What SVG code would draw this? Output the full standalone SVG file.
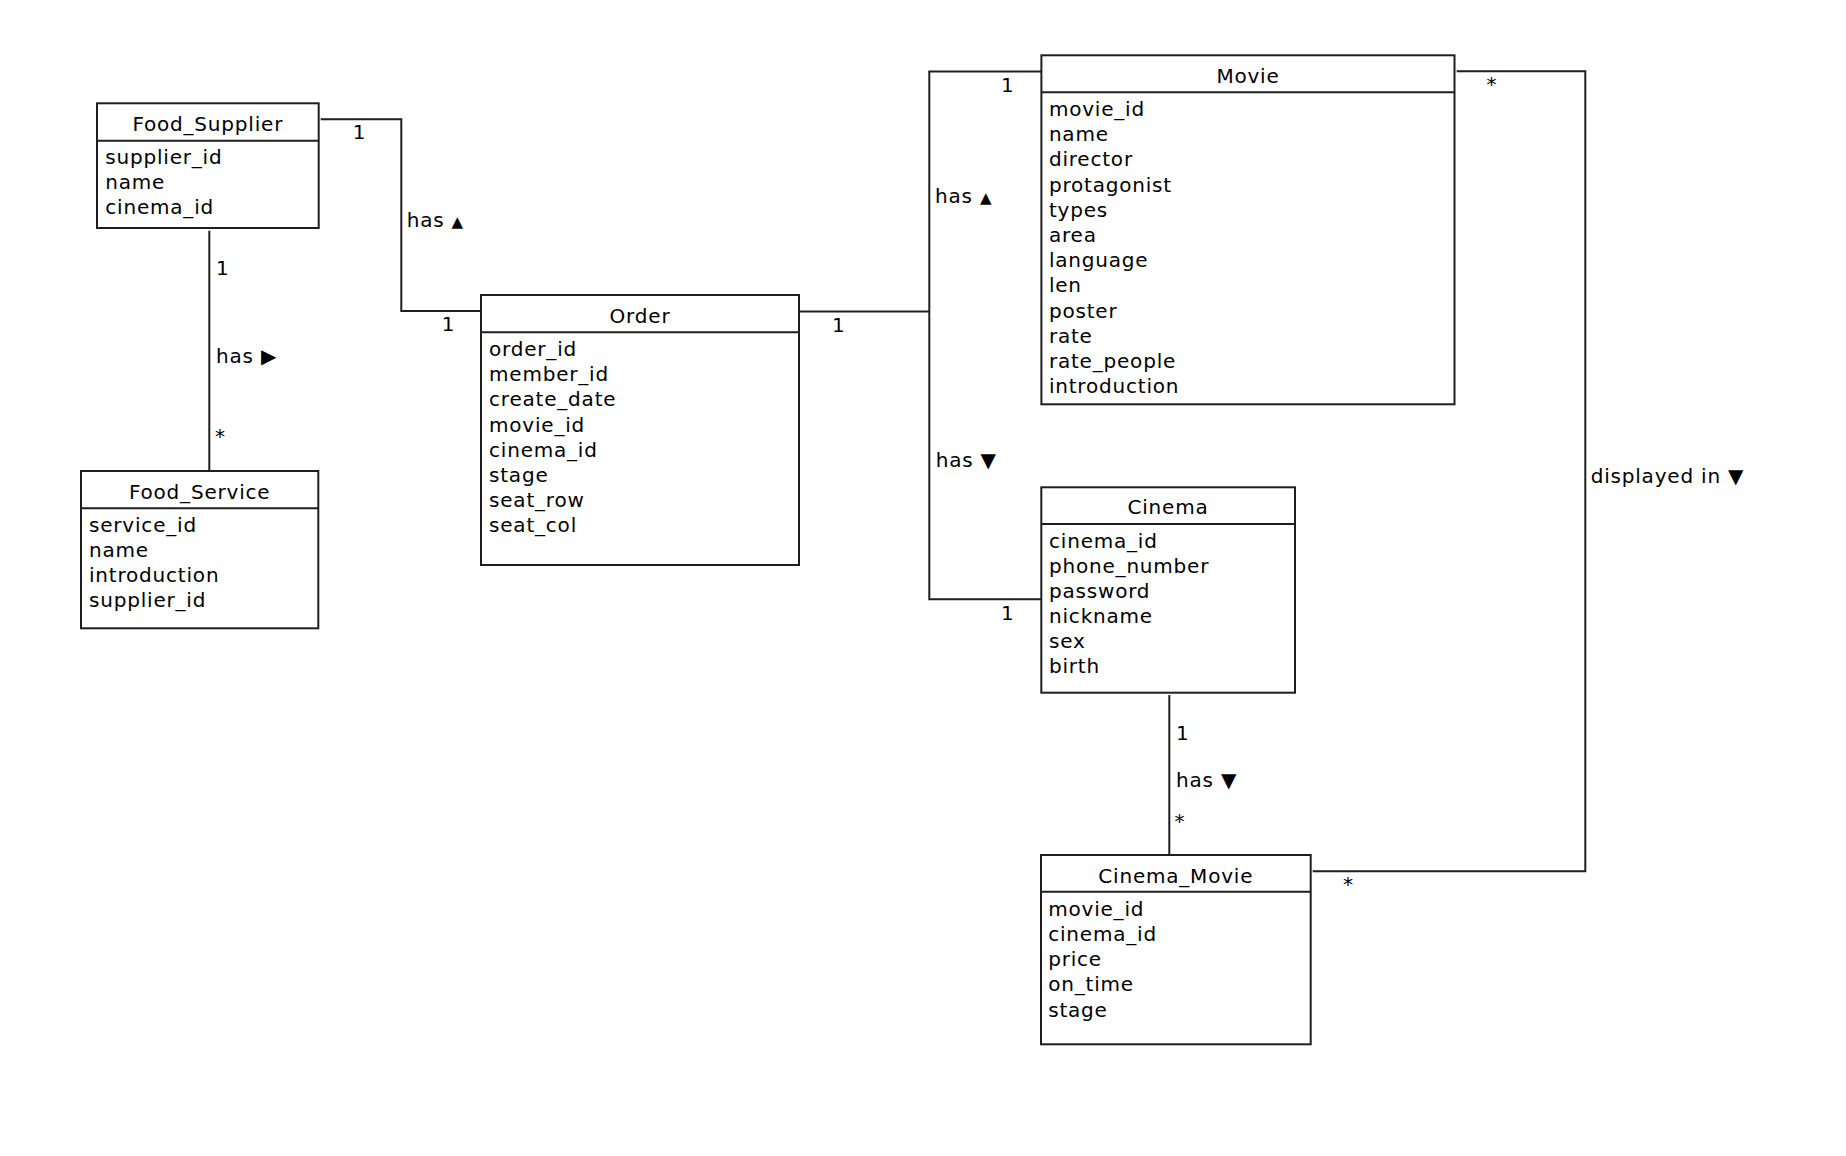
<svg xmlns="http://www.w3.org/2000/svg" width="1846" height="1156" viewBox="0 0 1846 1156">
<style>
  .box { fill: #ffffff; stroke: #1e1e1e; stroke-width: 2; }
  .div { stroke: #1e1e1e; stroke-width: 2; }
  .con { fill: none; stroke: #1e1e1e; stroke-width: 2; }
  text { font-family: "DejaVu Sans", "Liberation Sans", sans-serif; font-size: 20px; fill: #000; letter-spacing: 0.8px; }
  .title { text-anchor: middle; }
  .small { font-size: 15px; }
</style>
<rect width="1846" height="1156" fill="#ffffff"/>

<g id="connectors">
  <polyline class="con" points="320.7,119.3 401.3,119.3 401.3,311 481,311"/>
  <line class="con" x1="209.3" y1="230.7" x2="209.3" y2="471"/>
  <line class="con" x1="800" y1="311.5" x2="929.3" y2="311.5"/>
  <polyline class="con" points="1041.4,71.5 929.3,71.5 929.3,599.3 1041.3,599.3"/>
  <line class="con" x1="1169.3" y1="695" x2="1169.3" y2="855"/>
  <polyline class="con" points="1456.7,71.3 1585.3,71.3 1585.3,871.3 1312.7,871.3"/>

  <text x="352.7" y="139">1</text>
  <text x="406.7" y="226.7">has <tspan class="small">▲</tspan></text>
  <text x="441.7" y="331">1</text>

  <text x="216" y="275">1</text>
  <text x="216" y="362.7">has ▶</text>
  <text x="215" y="443">*</text>

  <text x="832" y="331.7">1</text>

  <text x="1001" y="91.7">1</text>
  <text x="935" y="202.7">has <tspan class="small">▲</tspan></text>
  <text x="935.7" y="466.7">has ▼</text>
  <text x="1001" y="620">1</text>

  <text x="1176" y="740">1</text>
  <text x="1176" y="786.7">has ▼</text>
  <text x="1174.5" y="827.5">*</text>

  <text x="1486.5" y="91">*</text>
  <text x="1590.7" y="482.7">displayed in ▼</text>
  <text x="1343" y="891">*</text>
</g>

<g id="Food_Supplier">
  <rect class="box" x="97" y="103.3" width="221.7" height="124.7"/>
  <line class="div" x1="97" y1="140.7" x2="318.7" y2="140.7"/>
  <text class="title" x="207.8" y="130.7">Food_Supplier</text>
  <text x="105.3" y="164">supplier_id</text>
  <text x="105.3" y="189">name</text>
  <text x="105.3" y="214">cinema_id</text>
</g>

<g id="Food_Service">
  <rect class="box" x="81" y="471" width="237.3" height="157.3"/>
  <line class="div" x1="81" y1="508.3" x2="318.3" y2="508.3"/>
  <text class="title" x="199.7" y="498.5">Food_Service</text>
  <text x="89" y="531.7">service_id</text>
  <text x="89" y="556.9">name</text>
  <text x="89" y="582.1">introduction</text>
  <text x="89" y="607.3">supplier_id</text>
</g>

<g id="Order">
  <rect class="box" x="481" y="295" width="318" height="270"/>
  <line class="div" x1="481" y1="332.3" x2="799" y2="332.3"/>
  <text class="title" x="640" y="322.7">Order</text>
  <text x="489" y="356">order_id</text>
  <text x="489" y="381.2">member_id</text>
  <text x="489" y="406.4">create_date</text>
  <text x="489" y="431.6">movie_id</text>
  <text x="489" y="456.8">cinema_id</text>
  <text x="489" y="482">stage</text>
  <text x="489" y="507.2">seat_row</text>
  <text x="489" y="532.4">seat_col</text>
</g>

<g id="Movie">
  <rect class="box" x="1041.4" y="55.3" width="413.1" height="349"/>
  <line class="div" x1="1041.4" y1="92.3" x2="1454.5" y2="92.3"/>
  <text class="title" x="1248" y="82.7">Movie</text>
  <text x="1048.9" y="116">movie_id</text>
  <text x="1048.9" y="141.2">name</text>
  <text x="1048.9" y="166.4">director</text>
  <text x="1048.9" y="191.6">protagonist</text>
  <text x="1048.9" y="216.8">types</text>
  <text x="1048.9" y="242">area</text>
  <text x="1048.9" y="267.2">language</text>
  <text x="1048.9" y="292.4">len</text>
  <text x="1048.9" y="317.6">poster</text>
  <text x="1048.9" y="342.8">rate</text>
  <text x="1048.9" y="368">rate_people</text>
  <text x="1048.9" y="393.2">introduction</text>
</g>

<g id="Cinema">
  <rect class="box" x="1041.3" y="487.3" width="253.7" height="205.4"/>
  <line class="div" x1="1041.3" y1="524" x2="1295" y2="524"/>
  <text class="title" x="1168" y="514.3">Cinema</text>
  <text x="1049" y="547.7">cinema_id</text>
  <text x="1049" y="572.7">phone_number</text>
  <text x="1049" y="597.7">password</text>
  <text x="1049" y="622.7">nickname</text>
  <text x="1049" y="647.7">sex</text>
  <text x="1049" y="672.7">birth</text>
</g>

<g id="Cinema_Movie">
  <rect class="box" x="1041" y="855" width="269.7" height="189.3"/>
  <line class="div" x1="1041" y1="891.7" x2="1310.7" y2="891.7"/>
  <text class="title" x="1175.8" y="882.7">Cinema_Movie</text>
  <text x="1048.2" y="915.7">movie_id</text>
  <text x="1048.2" y="940.9">cinema_id</text>
  <text x="1048.2" y="966.1">price</text>
  <text x="1048.2" y="991.3">on_time</text>
  <text x="1048.2" y="1016.5">stage</text>
</g>
</svg>
